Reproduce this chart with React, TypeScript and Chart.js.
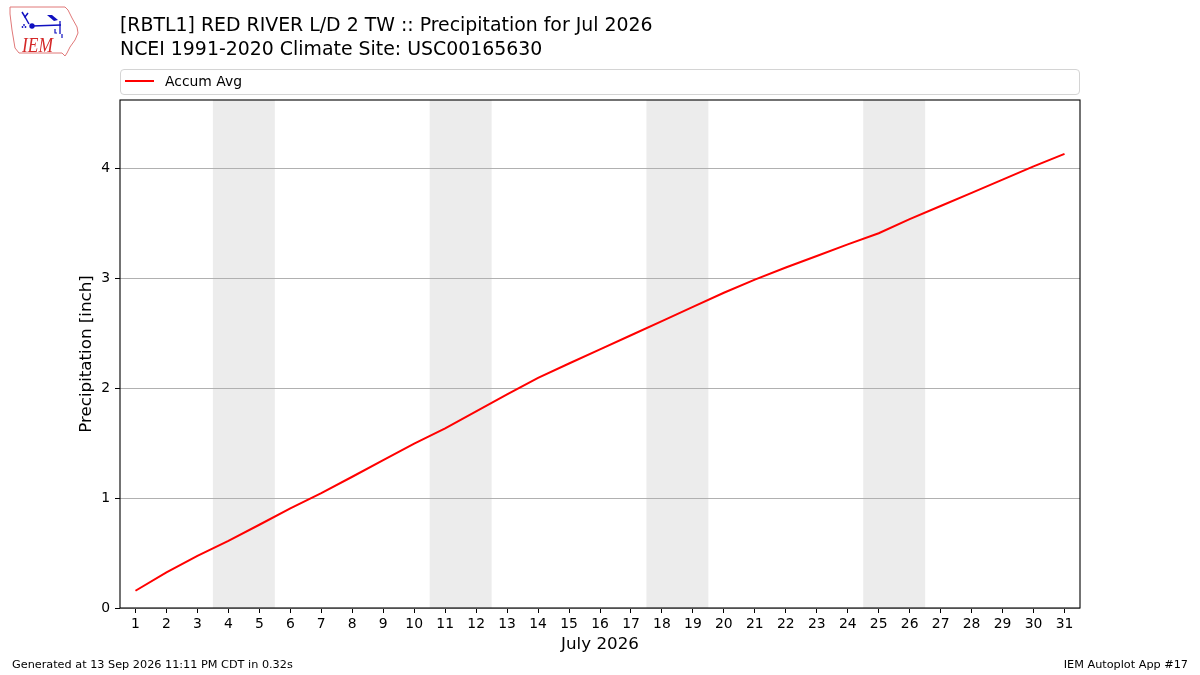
import React, { useEffect, useRef } from "react";
import { Chart, registerables } from "chart.js";

Chart.register(...registerables);

// ---- data ----
const days = [
  1, 2, 3, 4, 5, 6, 7, 8, 9, 10, 11, 12, 13, 14, 15, 16, 17, 18, 19, 20, 21, 22,
  23, 24, 25, 26, 27, 28, 29, 30, 31,
];
const accumAvg = [
  0.157, 0.324, 0.474, 0.612, 0.758, 0.908, 1.045, 1.195, 1.347, 1.497, 1.636,
  1.79, 1.945, 2.095, 2.226, 2.355, 2.483, 2.612, 2.742, 2.87, 2.99, 3.1, 3.205,
  3.31, 3.412, 3.54, 3.66, 3.78, 3.9, 4.02, 4.134,
];
const weekendStartDays = [4, 11, 18, 25];
const weekendLength = 2;
const yTicks = [0, 1, 2, 3, 4];
const xRange = [0.5, 31.5];
const yRange = [0, 4.625];

const titleLines = [
  "[RBTL1] RED RIVER L/D 2 TW :: Precipitation for Jul 2026",
  "NCEI 1991-2020 Climate Site: USC00165630",
];
const legendLabel = "Accum Avg";
const xAxisTitle = "July 2026";
const yAxisTitle = "Precipitation [inch]";
const footerLeft = "Generated at 13 Sep 2026 11:11 PM CDT in 0.32s";
const footerRight = "IEM Autoplot App #17";

const FONT = "'DejaVu Sans', sans-serif";

const weekendPlugin = {
  id: "weekendShade",
  beforeDraw(chart: any) {
    const { ctx, chartArea } = chart;
    const x = chart.scales.x;
    ctx.save();
    ctx.fillStyle = "#ececec";
    weekendStartDays.forEach((d) => {
      const x0 = x.getPixelForValue(d - 0.5);
      const x1 = x.getPixelForValue(d - 0.5 + weekendLength);
      ctx.fillRect(x0, chartArea.top, x1 - x0, chartArea.bottom - chartArea.top);
    });
    ctx.restore();
  },
};

const framePlugin = {
  id: "frame",
  afterDraw(chart: any) {
    const { ctx, chartArea } = chart;
    ctx.save();
    ctx.strokeStyle = "#000";
    ctx.lineWidth = 1.1;
    ctx.strokeRect(
      chartArea.left,
      chartArea.top,
      chartArea.right - chartArea.left,
      chartArea.bottom - chartArea.top
    );
    ctx.restore();
  },
};

function Logo() {
  return (
    <svg
      width={90}
      height={65}
      style={{ position: "absolute", left: 0, top: 0 }}
      viewBox="0 0 90 65"
    >
      <path
        d="M10 7 L65 7 L68 10 L72 18 L77 27 L78 33 L75 40 L70 47 L67 53 L65 56 L62 53 L19 53 L15 48 L12 30 L10 14 Z"
        fill="none"
        stroke="#e07878"
        strokeWidth={1}
      />
      <path d="M22 12 L25 17 L28 13" fill="none" stroke="#1010c0" strokeWidth={1.5} />
      <path d="M25 17 L29 24" fill="none" stroke="#1010c0" strokeWidth={1.5} />
      <circle cx={32} cy={26} r={2.7} fill="#1010c0" />
      <line x1={32} y1={26} x2={61} y2={25} stroke="#1010c0" strokeWidth={1.6} />
      <path d="M47 15 L52 15 L58 20 L54 21 Z" fill="#1010c0" />
      <line x1={60} y1={21} x2={60} y2={34} stroke="#1010c0" strokeWidth={1.3} />
      <path d="M55 29 L55 33 L57 33" fill="none" stroke="#1010c0" strokeWidth={1.2} />
      <path d="M62 34 L62 38" fill="none" stroke="#1010c0" strokeWidth={1.2} />
      <circle cx={24} cy={25} r={0.9} fill="#1010c0" />
      <circle cx={22.5} cy={27} r={0.9} fill="#1010c0" />
      <circle cx={25.5} cy={27} r={0.9} fill="#1010c0" />
      <text
        x={22}
        y={52}
        fontFamily="'Liberation Serif', serif"
        fontStyle="italic"
        fontSize={21}
        fill="#d42828"
        textLength={31}
        lengthAdjust="spacingAndGlyphs"
      >
        IEM
      </text>
    </svg>
  );
}

export default function App() {
  const canvasRef = useRef<HTMLCanvasElement | null>(null);

  useEffect(() => {
    const canvas = canvasRef.current;
    if (!canvas) return;
    const chart = new Chart(canvas, {
      type: "line",
      data: {
        datasets: [
          {
            label: legendLabel,
            data: days.map((d, i) => ({ x: d, y: accumAvg[i] })),
            borderColor: "#ff0000",
            backgroundColor: "#ff0000",
            borderWidth: 2,
            pointRadius: 0,
            tension: 0,
            fill: false,
          },
        ],
      },
      options: {
        responsive: false,
        animation: false,
        devicePixelRatio: 1,
        layout: { padding: { left: 60, top: 100, right: 120, bottom: 0 } },
        plugins: {
          legend: { display: false },
          title: { display: false },
          tooltip: { enabled: false },
        },
        scales: {
          x: {
            type: "linear",
            min: xRange[0],
            max: xRange[1],
            afterBuildTicks: (scale: any) => {
              scale.ticks = days.map((d) => ({ value: d }));
            },
            afterFit: (scale: any) => {
              scale.height = 67;
            },
            ticks: {
              color: "#000",
              font: { family: FONT, size: 13.9 },
              padding: 3,
              maxRotation: 0,
              autoSkip: false,
              callback: (v: any) => String(v),
            },
            grid: {
              drawOnChartArea: false,
              drawTicks: true,
              tickLength: 5,
              tickColor: "#000",
              tickWidth: 1,
            },
            border: { display: false },
            title: {
              display: true,
              text: xAxisTitle,
              color: "#000",
              font: { family: FONT, size: 16.7 },
              padding: { top: 0, bottom: 20 },
            },
          },
          y: {
            type: "linear",
            min: yRange[0],
            max: yRange[1],
            afterBuildTicks: (scale: any) => {
              scale.ticks = yTicks.map((v) => ({ value: v }));
            },
            afterFit: (scale: any) => {
              scale.width = 60;
            },
            ticks: {
              color: "#000",
              font: { family: FONT, size: 13.9 },
              padding: 5,
              callback: (v: any) => String(v),
            },
            grid: {
              color: "#b0b0b0",
              lineWidth: 1,
              drawTicks: true,
              tickLength: 5,
              tickColor: "#000",
              tickWidth: 1,
            },
            border: { display: false },
            title: {
              display: true,
              text: yAxisTitle,
              color: "#000",
              font: { family: FONT, size: 16.7 },
              padding: { top: 17, bottom: 0 },
            },
          },
        },
      },
      plugins: [weekendPlugin, framePlugin],
    } as any);
    return () => chart.destroy();
  }, []);

  const textBase: React.CSSProperties = {
    position: "absolute",
    fontFamily: FONT,
    color: "#000",
    whiteSpace: "nowrap",
  };

  return (
    <div
      style={{
        position: "fixed",
        left: 0,
        top: 0,
        width: 1200,
        height: 675,
        background: "#fff",
        overflow: "hidden",
      }}
    >
      <canvas
        ref={canvasRef}
        width={1200}
        height={675}
        style={{ position: "absolute", left: 0, top: 0, width: 1200, height: 675 }}
      />
      <Logo />
      {titleLines.map((t, i) => (
        <div
          key={i}
          style={{
            ...textBase,
            left: 120,
            top: 11 + i * 24,
            fontSize: 18.9,
            lineHeight: "26px",
          }}
        >
          {t}
        </div>
      ))}
      <div
        style={{
          position: "absolute",
          left: 120,
          top: 69,
          width: 960,
          height: 26,
          boxSizing: "border-box",
          border: "1px solid #d4d4d4",
          borderRadius: 4,
          background: "#fff",
        }}
      >
        <div
          style={{
            position: "absolute",
            left: 4,
            top: 10,
            width: 29,
            height: 2,
            background: "#ff0000",
          }}
        />
        <div
          style={{
            ...textBase,
            left: 44,
            top: 0,
            fontSize: 13.9,
            lineHeight: "23px",
          }}
        >
          {legendLabel}
        </div>
      </div>
      <div
        style={{
          ...textBase,
          left: 12,
          top: 657,
          fontSize: 11.25,
          lineHeight: "16px",
        }}
      >
        {footerLeft}
      </div>
      <div
        style={{
          ...textBase,
          right: 12,
          top: 657,
          fontSize: 11.25,
          lineHeight: "16px",
        }}
      >
        {footerRight}
      </div>
    </div>
  );
}
